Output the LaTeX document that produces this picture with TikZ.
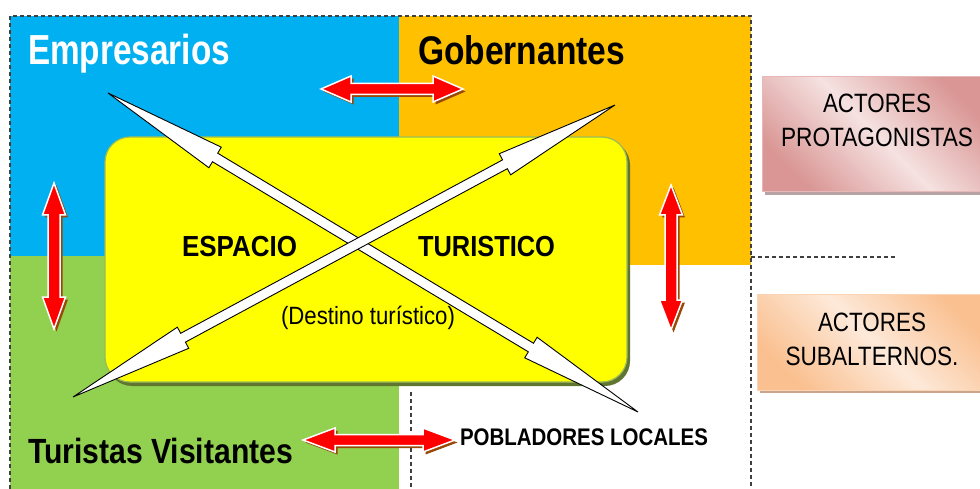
\documentclass[tikz,border=0pt]{standalone}
\usepackage{fontspec}
\setmainfont{Liberation Sans}
\usepackage{graphicx}
\usetikzlibrary{calc}
\definecolor{cblue}{HTML}{00B0F0}
\definecolor{corange}{HTML}{FFC000}
\definecolor{cgreen}{HTML}{92D050}
\definecolor{cyellow}{HTML}{FFFF00}
\definecolor{olivel}{HTML}{9BBB59}
\definecolor{olived}{HTML}{5F7530}
\definecolor{arrowred}{HTML}{FF0000}
\definecolor{shadowbrown}{HTML}{984807}
\definecolor{framegray}{HTML}{404040}
\definecolor{pinkd}{HTML}{D99694}
\definecolor{pinkl}{HTML}{F5E2E1}
\definecolor{pinkb}{HTML}{E6B9B8}
\definecolor{pinks}{HTML}{B7A3A3}
\definecolor{peachd}{HTML}{FAC090}
\definecolor{peachl}{HTML}{FDE9D9}
\definecolor{peachb}{HTML}{FBD4B4}
\definecolor{peachs}{HTML}{C9A58C}
\newcommand{\fitw}[2]{\resizebox{#1}{\height}{#2}}
\newcommand{\dblarrow}[6]{%
  \coordinate (tmpHA) at ($(#2)!#4!(#3)$);
  \coordinate (tmpHB) at ($(#3)!#4!(#2)$);
  \path[#1] (#2) -- ($(tmpHA)!#5!90:(#3)$) -- ($(tmpHA)!#6!90:(#3)$)
    -- ($(tmpHB)!#6!-90:(#2)$) -- ($(tmpHB)!#5!-90:(#2)$) -- (#3)
    -- ($(tmpHB)!#5!90:(#2)$) -- ($(tmpHB)!#6!90:(#2)$)
    -- ($(tmpHA)!#6!-90:(#3)$) -- ($(tmpHA)!#5!-90:(#3)$) -- cycle;}
\newcommand{\redarrow}[5]{%
  \begin{scope}[transform canvas={shift={(2.5,2.5)}}]
    \dblarrow{fill=shadowbrown}{#1}{#2}{#3}{#4}{#5}
  \end{scope}
  \dblarrow{fill=arrowred,draw=white,line width=1.5pt}{#1}{#2}{#3}{#4}{#5}}
\tikzset{
  txt/.style={inner sep=0pt, outer sep=0pt},
  framedash/.style={draw=framegray, line width=1.2pt, dash pattern=on 4pt off 3pt},
  whitearrow/.style={fill=white, draw=black, line width=0.9pt, line join=miter},
}
\begin{document}
\begin{tikzpicture}[x=1pt,y=-1pt]
\useasboundingbox (0,0) rectangle (980,489);
\clip (0,0) rectangle (980,489);
% quadrants
\fill[cblue] (10,16) rectangle (399,256);
\fill[corange] (399,16) rectangle (751,265);
\fill[cgreen] (10,256) rectangle (399,489);
% frame
\draw[framedash] (10,489) -- (10,16) -- (751,16) -- (751,489);
\coordinate (fr) at (751,257);
\coordinate (fe) at (897,257);
\draw[framedash] (fr) -- (fe);
\coordinate (vt) at (411,392);
\coordinate (vb) at (411,489);
\draw[framedash] (vt) -- (vb);
% yellow space
\fill[olived, rounded corners=25pt] (107,140) rectangle (630,386);
\filldraw[fill=cyellow, draw=olivel, line width=1.2pt, rounded corners=25pt] (105,137) rectangle (627,382);
% side boxes
\fill[pinks] (765,80) rectangle (990,195);
\shade[top color=pinkd, bottom color=pinkd, middle color=pinkl, shading angle=-45] (762,77) rectangle (990,192);
\draw[pinkb, line width=1pt] (990,77) -- (762,77) -- (762,192) -- (990,192);
\fill[peachs] (760,297) rectangle (990,393);
\shade[top color=peachd, bottom color=peachd, middle color=peachl, shading angle=-45] (757,294) rectangle (990,390);
\draw[peachb, line width=1pt] (990,294) -- (757,294) -- (757,390) -- (990,390);
% texts
\node[txt, anchor=base west, text=white] (emp) at (28,65) {\fitw{202pt}{\fontsize{42}{42}\selectfont\bfseries Empresarios}};
\node[txt, anchor=base west] (gob) at (418,65) {\fitw{207pt}{\fontsize{40}{40}\selectfont\bfseries Gobernantes}};
\node[txt, anchor=base west] (tur) at (28,463) {\fitw{265pt}{\fontsize{35}{35}\selectfont\bfseries Turistas Visitantes}};
\node[txt, anchor=base west] (esp) at (182,256) {\fitw{115pt}{\fontsize{29}{29}\selectfont\bfseries ESPACIO}};
\node[txt, anchor=base west] (turi) at (418,256) {\fitw{137pt}{\fontsize{29}{29}\selectfont\bfseries TURISTICO}};
\node[txt, anchor=base west] (dest) at (281,324) {\fitw{174pt}{\fontsize{25}{25}\selectfont (Destino turístico)}};
\node[txt, anchor=base west] (pob) at (460,445) {\fitw{248pt}{\fontsize{24}{24}\selectfont\bfseries POBLADORES LOCALES}};
\node[txt, anchor=base] (pa) at (877,113) {\fitw{108pt}{\fontsize{26.5}{26.5}\selectfont ACTORES}};
\node[txt, anchor=base] (pp) at (877,147) {\fitw{192pt}{\fontsize{26.5}{26.5}\selectfont PROTAGONISTAS}};
\node[txt, anchor=base] (sa) at (872,331) {\fitw{108pt}{\fontsize{26.5}{26.5}\selectfont ACTORES}};
\node[txt, anchor=base] (ss) at (872,365) {\fitw{173pt}{\fontsize{26.5}{26.5}\selectfont SUBALTERNOS.}};
% white crossing arrows
\coordinate (eA) at (108,93);
\coordinate (pA) at (638,412);
\coordinate (gB) at (615,105);
\coordinate (tB) at (73,397);
\dblarrow{whitearrow}{eA}{pA}{125pt}{12pt}{5pt}
\dblarrow{whitearrow}{gB}{tB}{125pt}{12pt}{5pt}
% red arrows
\coordinate (r1a) at (321,89);
\coordinate (r1b) at (463,89);
\redarrow{r1a}{r1b}{30pt}{13pt}{5.5pt}
\coordinate (r2a) at (54,183);
\coordinate (r2b) at (54,329);
\redarrow{r2a}{r2b}{32pt}{11.5pt}{6pt}
\coordinate (r3a) at (671,185);
\coordinate (r3b) at (671,330);
\redarrow{r3a}{r3b}{30pt}{11.5pt}{6pt}
\coordinate (r4a) at (303,440);
\coordinate (r4b) at (455,440);
\redarrow{r4a}{r4b}{32pt}{12pt}{5.5pt}
\end{tikzpicture}
\end{document}
